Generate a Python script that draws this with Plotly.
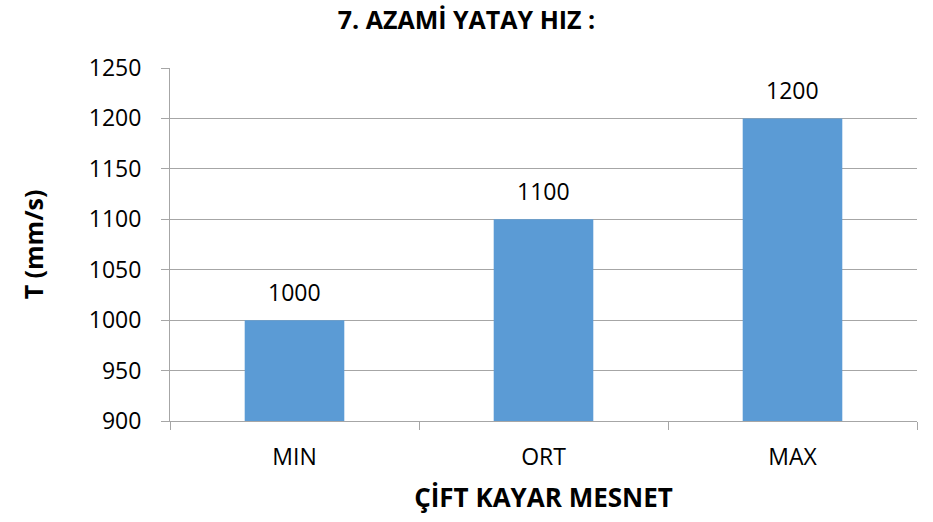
import plotly.graph_objects as go

# Maximum horizontal velocity for the double sliding bearing
categories = ["MIN", "ORT", "MAX"]
values = [1000, 1100, 1200]
y_ticks = [900, 950, 1000, 1050, 1100, 1150, 1200, 1250]

FONT = "Open Sans"
GRID = "#a6a6a6"

fig = go.Figure(
    go.Bar(
        x=categories,
        y=values,
        marker=dict(color="#5b9bd5", line=dict(width=0)),
        hoverinfo="x+y",
    )
)

# Value labels above each bar
for cat, val in zip(categories, values):
    fig.add_annotation(
        x=cat,
        y=val,
        text=str(val),
        showarrow=False,
        yanchor="middle",
        yshift=28,
        font=dict(family=FONT, size=23, color="#000000"),
    )

fig.update_layout(
    width=933,
    height=522,
    margin=dict(l=170, r=16, t=68, b=101),
    paper_bgcolor="white",
    plot_bgcolor="white",
    bargap=0.6,
    showlegend=False,
    font=dict(family=FONT, size=23, color="#000000"),
    title=dict(
        text="<b>7. AZAMİ YATAY HIZ :</b>",
        x=0.5,
        xanchor="center",
        y=0.962,
        yanchor="middle",
        font=dict(family=FONT, size=25, color="#000000"),
    ),
)

fig.update_xaxes(
    type="category",
    showline=True,
    linecolor=GRID,
    linewidth=1,
    ticks="outside",
    tickson="boundaries",
    ticklen=8,
    tickcolor=GRID,
    ticklabelstandoff=15,
    showgrid=False,
    title=dict(text="<b>ÇİFT KAYAR MESNET</b>", font=dict(family=FONT, size=26), standoff=18),
)

fig.update_yaxes(
    range=[900, 1250],
    tickvals=y_ticks,
    showline=True,
    linecolor=GRID,
    linewidth=1,
    ticks="outside",
    ticklen=8,
    tickcolor=GRID,
    ticklabelstandoff=15,
    showgrid=True,
    gridcolor=GRID,
    gridwidth=1,
    zeroline=False,
    title=dict(text="<b>T (mm/s)</b>", font=dict(family=FONT, size=25), standoff=38),
)

fig.write_html("out.html")
